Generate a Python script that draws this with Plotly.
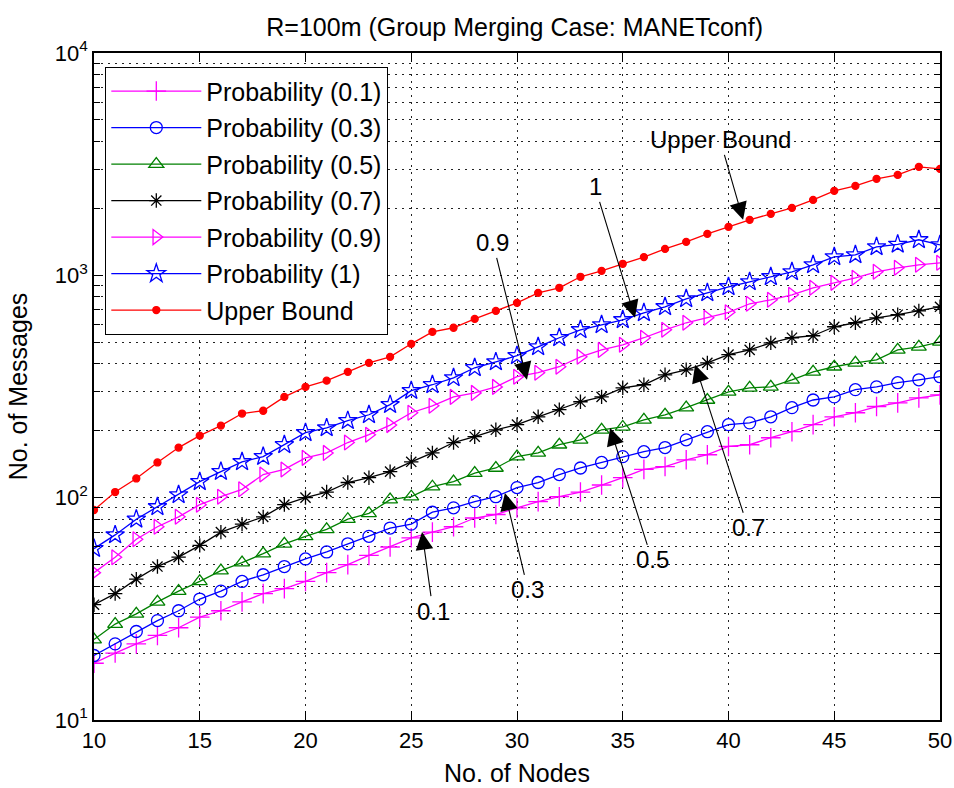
import math
import plotly.graph_objects as go

nodes = list(range(10, 51))

p01 = [18, 20, 22, 24, 26, 29, 31, 34, 37, 39, 42, 46, 50, 55,
       60, 66, 70, 74, 81, 84, 90, 96, 101, 106, 114, 123, 134, 138, 148, 156, 170, 173, 186, 198, 213,
       231, 241, 257, 267, 281, 290]
p03 = [19.5, 22, 25, 28, 31, 35, 38, 42, 45, 49, 53, 57, 62, 67,
       73, 76, 86, 90, 96, 101, 111, 117, 127, 136, 144, 153, 161, 168, 182, 198, 213, 217, 231, 254, 275,
       284, 306, 315, 329, 339, 350]
p05 = [23, 27, 30, 34, 38, 42, 47, 51, 56, 62, 67, 72, 80, 85,
       98, 101, 112, 118, 129, 136, 153, 159, 173, 182, 202, 208, 224, 236, 254, 275, 299, 312, 315, 339, 368,
       388, 404, 417, 462, 477, 502]
p07 = [33, 37, 43, 49, 54, 61, 70, 76, 82, 93, 100, 106, 117, 123,
       131, 145, 159, 177, 188, 202, 213, 231, 249, 270, 284, 312, 322, 357, 376, 404, 440, 462, 497, 524, 535,
       587, 612, 644, 665, 692, 722]
p09 = [46, 54, 65, 74, 82, 93, 101, 109, 127, 134, 151, 159, 177, 192,
       212, 241, 259, 284, 296, 315, 350, 365, 388, 430, 462, 487, 524, 569, 612, 644, 682, 745, 776, 817, 879,
       925, 975, 1037, 1081, 1115, 1138]
p10 = [59, 68, 80, 91, 103, 118, 131, 145, 153, 173, 196, 206, 222, 236,
       262, 303, 322, 346, 384, 408, 435, 477, 524, 569, 599, 631, 678, 722, 784, 834, 888, 935, 985, 1037, 1115,
       1211, 1236, 1343, 1378, 1445, 1371]
upper = [88, 106, 122, 144, 168, 190, 211, 239, 246, 284, 315, 336, 368, 404,
         430, 492, 557, 581, 637, 692, 752, 834, 879, 985, 1048, 1127, 1208, 1315, 1415, 1537, 1652, 1776, 1890, 2011, 2184,
         2399, 2525, 2716, 2829, 3076, 3010]

names = ["Probability (0.1)", "Probability (0.3)", "Probability (0.5)", "Probability (0.7)",
         "Probability (0.9)", "Probability (1)", "Upper Bound"]

# annotation labels, arrow heads (data coords) and text offsets (pixels)
ann_text = ["Upper Bound", "1", "0.9", "0.7", "0.5", "0.3", "0.1"]
ann_x = [40.69, 35.58, 30.47, 38.42, 34.40, 29.43, 25.51]
ann_y = [1776, 644, 339, 396, 206, 105, 70]
ann_ax = [-23, -40, -34, 53, 42, 23, 11]
ann_ay = [-80, -131, -137, 163, 132, 97, 79]

series = [p01, p03, p05, p07, p09, p10, upper]
colors = ["#FF00FF", "#0000FF", "#008000", "#000000", "#FF00FF", "#0000FF", "#FF0000"]
symbols = ["cross-thin-open", "circle-open", "triangle-up-open", "asterisk-open",
           "triangle-right-open", "star-open", "circle"]
sizes = [14, 12, 13, 12, 13, 14, 7]

FONT = "Liberation Sans, Arial, sans-serif"

fig = go.Figure()
for i, (vals, nm, c, s, sz) in enumerate(zip(series, names, colors, symbols, sizes)):
    fig.add_trace(go.Scatter(
        x=nodes, y=vals, name=nm, mode="lines+markers", legendgroup=f"g{i}",
        line=dict(color=c, width=1.3),
        marker=dict(symbol=s, size=sz, color=c, line=dict(color=c, width=1.3)),
    ))

for t, hx, hy, ax, ay in zip(ann_text, ann_x, ann_y, ann_ax, ann_ay):
    fig.add_annotation(x=hx, y=math.log10(hy), yref="y", xref="x", text=t,
                       showarrow=True, ax=ax, ay=ay, arrowhead=2, arrowsize=3.2,
                       arrowwidth=1.1, arrowcolor="black",
                       font=dict(family=FONT, size=24, color="black"))

fig.update_layout(
    width=954, height=788, autosize=False,
    margin=dict(l=94, r=14, t=53, b=68, autoexpand=False),
    paper_bgcolor="white", plot_bgcolor="white",
    title=dict(text="R=100m (Group Merging Case: MANETconf)", x=0.5395, xanchor="center",
               y=0.965, yanchor="middle", font=dict(family=FONT, size=25, color="black"),
               automargin=False),
    font=dict(family=FONT, size=22, color="black"),
    legend=dict(x=0.013, y=0.979, xanchor="left", yanchor="top",
                bgcolor="white", bordercolor="black", borderwidth=1.3,
                font=dict(family=FONT, size=25, color="black"),
                tracegroupgap=1, traceorder="grouped", itemwidth=90),
    showlegend=True,
)

fig.update_xaxes(
    range=[10, 50], tickvals=list(range(10, 51, 5)), automargin=False,
    showline=True, linecolor="black", linewidth=1.5, mirror="allticks",
    ticks="inside", ticklen=9, tickcolor="black",
    showgrid=True, gridcolor="#222", gridwidth=1, griddash="2px,5px",
    zeroline=False,
    title=dict(text="No. of Nodes", font=dict(family=FONT, size=25), standoff=12),
    tickfont=dict(family=FONT, size=22),
)
fig.update_yaxes(
    type="log", range=[1, 4], automargin=False,
    tickvals=[10, 100, 1000, 10000],
    ticktext=["10<sup>1</sup>", "10<sup>2</sup>", "10<sup>3</sup>", "10<sup>4</sup>"],
    showline=True, linecolor="black", linewidth=1.5, mirror="allticks",
    ticks="inside", ticklen=9, tickcolor="black",
    showgrid=True, gridcolor="#222", gridwidth=1, griddash="2px,5px",
    minor=dict(ticks="inside", ticklen=6, tickcolor="black", showgrid=True,
               gridcolor="#222", gridwidth=1, griddash="2px,5px",
               tickvals=[m * 10 ** e for e in range(1, 4) for m in range(2, 10)]),
    zeroline=False,
    title=dict(text="No. of Messages", font=dict(family=FONT, size=25), standoff=20),
    tickfont=dict(family=FONT, size=22),
)

fig.write_html("out.html")
